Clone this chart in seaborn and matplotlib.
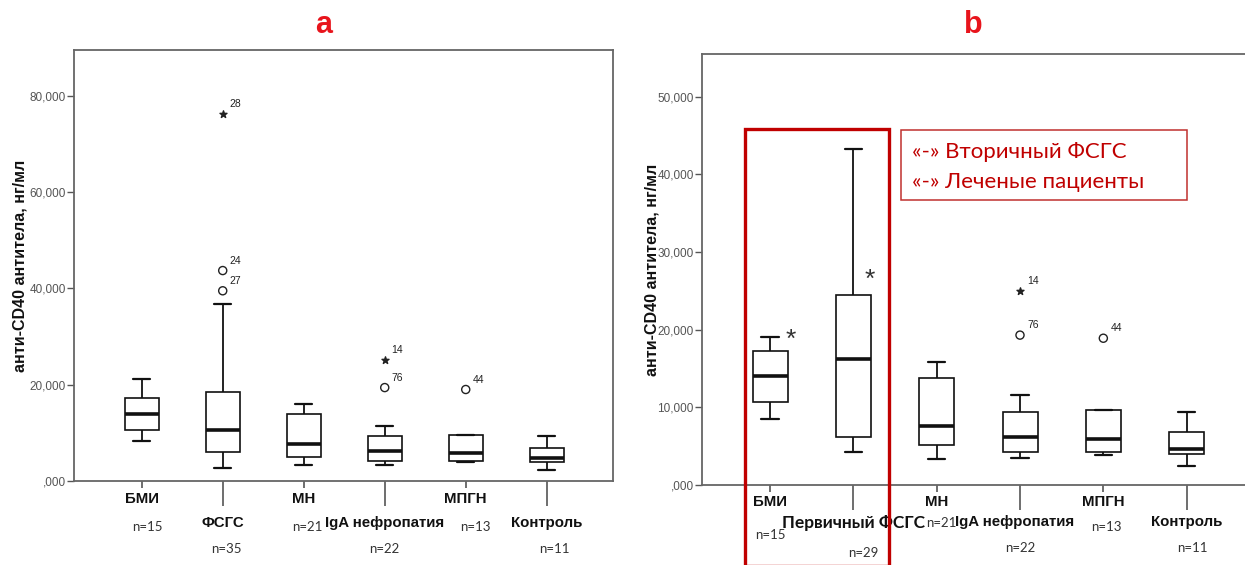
import numpy as np
import pandas as pd
import matplotlib
matplotlib.use("Agg")
import matplotlib.pyplot as plt
import matplotlib.transforms as mtransforms
from matplotlib.patches import Rectangle
import seaborn as sns

# ---------------- data ----------------
cats_a = ["БМИ", "ФСГС", "МН", "IgA нефропатия", "МПГН", "Контроль"]
n_a = [15, 35, 21, 22, 13, 11]
lo_a = [8300, 2600, 3300, 3400, 3850, 2200]
q1_a = [10600, 6000, 4900, 4200, 4200, 3850]
med_a = [13900, 10500, 7600, 6200, 5800, 4700]
q3_a = [17300, 18500, 13900, 9400, 9600, 6750]
hi_a = [21100, 36800, 16000, 11500, 9600, 9400]
out_a_cat = ["ФСГС", "ФСГС", "ФСГС", "IgA нефропатия", "IgA нефропатия", "МПГН"]
out_a_val = [76300, 43700, 39500, 25200, 19400, 19000]
out_a_id = ["28", "24", "27", "14", "76", "44"]
out_a_extreme = [True, False, False, True, False, False]
yticks_a = [0, 20000, 40000, 60000, 80000]
ylabels_a = [",000", "20,000", "40,000", "60,000", "80,000"]

cats_b = ["БМИ", "Первичный ФСГС", "МН", "IgA нефропатия", "МПГН", "Контроль"]
n_b = [15, 29, 21, 22, 13, 11]
lo_b = [8500, 4200, 3400, 3500, 3900, 2400]
q1_b = [10700, 6200, 5100, 4200, 4200, 4000]
med_b = [14100, 16200, 7600, 6200, 5900, 4700]
q3_b = [17300, 24500, 13800, 9400, 9600, 6800]
hi_b = [19000, 43300, 15900, 11600, 9600, 9450]
out_b_cat = ["IgA нефропатия", "IgA нефропатия", "МПГН"]
out_b_val = [25000, 19300, 18900]
out_b_id = ["14", "76", "44"]
out_b_extreme = [True, False, False]
yticks_b = [0, 10000, 20000, 30000, 40000, 50000]
ylabels_b = [",000", "10,000", "20,000", "30,000", "40,000", "50,000"]

ylabel = "анти-CD40 антитела, нг/мл"
legend_lines = ["«-» Вторичный ФСГС", "«-» Леченые пациенты"]

# ---------------- style ----------------
sns.set_theme(style="white")
plt.rcParams["font.family"] = ["Liberation Sans", "DejaVu Sans"]
CAL = ["Lato", "Open Sans", "DejaVu Sans"]
ARIAL = ["Liberation Sans", "DejaVu Sans"]
W, H = 1245, 565
fig = plt.figure(figsize=(W / 100, H / 100), dpi=100)


def px_ax(l, t, r, b):
    return fig.add_axes([l / W, 1 - b / H, (r - l) / W, (b - t) / H])


def long_df(cats, lo, q1, med, q3, hi):
    rows = []
    for c, a, b, m, d, e in zip(cats, lo, q1, med, q3, hi):
        for v in (a, b, m, d, e):
            rows.append((c, v))
    return pd.DataFrame(rows, columns=["group", "value"])


def panel(ax, cats, n, lo, q1, med, q3, hi, o_cat, o_val, o_id, o_ext,
          yt, yl, ylim, xlim, name_y, n_y, n_dx, name_dx):
    df = long_df(cats, lo, q1, med, q3, hi)
    sns.boxplot(data=df, x="group", y="value", order=cats, ax=ax,
                whis=(0, 100), width=0.42, color="white", linecolor="#111111",
                linewidth=1.2, fliersize=0,
                medianprops=dict(linewidth=2.6, color="#111111"),
                whiskerprops=dict(linewidth=1.3), capprops=dict(linewidth=1.6))
    for p in ax.patches:
        p.set_facecolor("white")
    # outliers
    xs = [cats.index(c) for c in o_cat]
    for x, v, lab, ext in zip(xs, o_val, o_id, o_ext):
        if ext:
            ax.scatter([x], [v], marker="*", s=28, color="#222222", zorder=5)
        else:
            ax.scatter([x], [v], marker="o", s=34, facecolor="none",
                       edgecolor="#222222", linewidth=1.0, zorder=5)
        ax.annotate(lab, (x, v), xytext=(5, 5), textcoords="offset points",
                    fontsize=7.5, color="#222222")
    ax.set_ylim(*ylim)
    ax.set_xlim(*xlim)
    ax.set_yticks(yt)
    ax.set_yticklabels(yl)
    ax.set_xticks(range(len(cats)))
    ax.set_xticklabels([""] * len(cats))
    ax.set_xlabel("")
    ax.set_ylabel(ylabel, fontsize=11.5, fontweight="bold", color="#111111")
    ax.tick_params(axis="y", direction="out", length=5, width=1, color="#555555",
                   labelsize=8.5, labelcolor="#555555", left=True, pad=1)
    ax.tick_params(axis="x", direction="out", length=5, width=1.2,
                   color="#555555", bottom=True)
    for i, t in enumerate(ax.xaxis.get_major_ticks()):
        if i % 2 == 1:
            t.tick1line.set_markersize(18)
    for s in ax.spines.values():
        s.set_color("#666666")
        s.set_linewidth(1.3)
    ax.grid(False)
    tr = mtransforms.blended_transform_factory(ax.transData, fig.transFigure)
    for i, c in enumerate(cats):
        if c.startswith("Первичный"):
            fam, fs = CAL, 12.5
        else:
            fam, fs = ARIAL, 10.8
        ax.text(i + name_dx[i], 1 - name_y[i] / H, c, transform=tr, ha="center",
                va="center", fontsize=fs, fontweight="bold", family=fam,
                color="#111111", clip_on=False)
        ax.text(i + n_dx[i], 1 - n_y[i] / H, f"n={n[i]}", transform=tr,
                ha="center", va="center", fontsize=9.5, family=CAL,
                color="#333333", clip_on=False)


# panel a
ax1 = px_ax(74, 50, 613, 481)
panel(ax1, cats_a, n_a, lo_a, q1_a, med_a, q3_a, hi_a,
      out_a_cat, out_a_val, out_a_id, out_a_extreme,
      yticks_a, ylabels_a, (0, 89500), (-0.836, 5.818),
      name_y=[499, 523, 499, 523, 499, 523],
      n_y=[527, 549, 527, 549, 527, 549],
      n_dx=[0.07, 0.05, 0.04, 0.0, 0.12, 0.1],
      name_dx=[0, 0, 0, 0, 0, 0])
ax1.yaxis.set_label_coords(-0.087, 0.5)

# panel b
ax2 = px_ax(702, 54, 1255, 485)
panel(ax2, cats_b, n_b, lo_b, q1_b, med_b, q3_b, hi_b,
      out_b_cat, out_b_val, out_b_id, out_b_extreme,
      yticks_b, ylabels_b, (0, 55500), (-0.816, 5.82),
      name_y=[502, 523, 502, 522, 502, 522],
      n_y=[535, 553, 523, 548, 527, 548],
      n_dx=[0.0, 0.12, 0.06, 0.0, 0.04, 0.07],
      name_dx=[0, 0, 0, -0.06, 0, 0])
ax2.yaxis.set_label_coords(-0.077, 0.5)

# significance asterisks in panel b
ax2.annotate("*", (0, hi_b[0]), xytext=(15, -2), textcoords="offset points",
             fontsize=19, color="#333333", ha="center", va="center")
ax2.annotate("*", (1, q3_b[1]), xytext=(12, 11), textcoords="offset points",
             fontsize=19, color="#333333", ha="center", va="center")

# titles
fig.text(324 / W, 1 - 25 / H, "a", color="#E8141C", fontsize=22,
         fontweight="bold", ha="center", va="center")
fig.text(973 / W, 1 - 25 / H, "b", color="#E8141C", fontsize=22,
         fontweight="bold", ha="center", va="center")

# red highlight box and legend box
fig.patches.append(Rectangle((745 / W, 1 - 566 / H), (889 - 745) / W, (566 - 129) / H,
                             transform=fig.transFigure, fill=False,
                             edgecolor="#C00000", linewidth=2.4, zorder=10))
fig.patches.append(Rectangle((901 / W, 1 - 200 / H), (1187 - 901) / W, (200 - 130) / H,
                             transform=fig.transFigure, fill=False,
                             edgecolor="#C0302E", linewidth=1.1, zorder=10))
fig.text(912 / W, 1 - 152 / H, legend_lines[0], color="#C00000", fontsize=16,
         family=CAL, ha="left", va="center")
fig.text(912 / W, 1 - 182 / H, legend_lines[1], color="#C00000", fontsize=16,
         family=CAL, ha="left", va="center")

fig.savefig("out.png", dpi=100)
